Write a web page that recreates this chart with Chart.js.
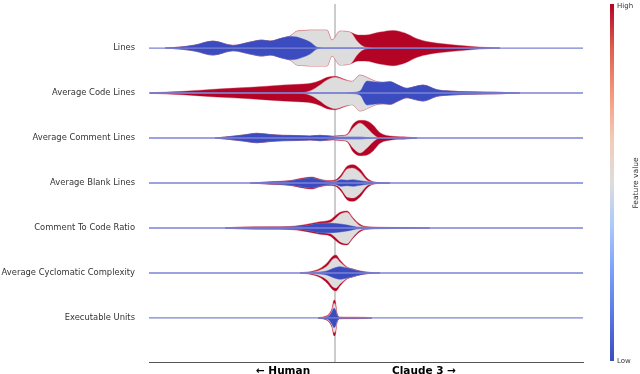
<!DOCTYPE html>
<html>
<head>
<meta charset="utf-8">
<script src="https://cdn.jsdelivr.net/npm/chart.js@4"></script>
<style>
  body { margin: 0; background: #fff; }
</style>
</head>
<body>
<canvas id="shapChart" width="640" height="374"></canvas>
<script>
const features = ['Lines', 'Average Code Lines', 'Average Comment Lines', 'Average Blank Lines',
    'Comment To Code Ratio', 'Average Cyclomatic Complexity', 'Executable Units'];
const xLabels = ['\u2190 Human', 'Claude 3 \u2192'];
const xLabelPos = [-0.052, 0.089];
const xMin = -0.186, xMax = 0.248;

// shap value grid and density edges per feature (low / low+mid / all)
const shapX = [
    [-0.17,-0.155,-0.14,-0.122,-0.102,-0.085,-0.073,-0.065,-0.053,-0.045,-0.038,-0.032,-0.025,-0.017,-0.008,-0.003,0.005,0.015,0.023,0.03,0.045,0.058,0.07,0.082,0.095,0.108,0.132,0.148,0.165],
    [-0.185,-0.152,-0.118,-0.085,-0.052,-0.032,-0.023,-0.015,-0.008,0,0.01,0.017,0.025,0.032,0.04,0.048,0.055,0.063,0.072,0.08,0.088,0.102,0.115,0.132,0.165,0.185],
    [-0.12,-0.105,-0.092,-0.078,-0.065,-0.052,-0.038,-0.025,-0.015,-0.002,0.005,0.012,0.018,0.025,0.032,0.038,0.045,0.058,0.072,0.082],
    [-0.085,-0.065,-0.045,-0.032,-0.023,-0.015,-0.007,0,0.006,0.012,0.018,0.025,0.032,0.038,0.045,0.055],
    [-0.11,-0.095,-0.065,-0.045,-0.028,-0.015,-0.005,0,0.005,0.012,0.018,0.025,0.032,0.045,0.072,0.095],
    [-0.035,-0.025,-0.015,-0.008,-0.002,0.001,0.005,0.012,0.018,0.025,0.032,0.045],
    [-0.017,-0.01,-0.006,-0.003,-0.001,0.0005,0.002,0.005,0.015,0.03,0.037]
];
const lowEdge = [
    [0,1,3,7,2.7,6,8,7,10,11.7,11,9,6,0.5,0,0,0,0,0,0,0,0,0,0,0,0,0,0,0],
    [0,0,0,0,0,0,0,0,0,0,0,0.5,2,12,11,10.7,11.3,8,4.7,6.5,8,3.3,2,1.3,0.7,0],
    [0,1.5,3,4.7,3.5,2.7,2.5,2,2.7,1.3,1,1,1,1,0.5,0,0,0,0,0],
    [0,1,2,4,5,3,1.5,1.3,3.3,2.7,3.3,2.3,1.3,0.7,0.3,0],
    [0,0.5,0.8,1,2.3,4.7,4.7,4.5,4,3,1.7,0.7,0.7,0.5,0.4,0],
    [0,0.3,1,2,4.5,5.5,6.3,5,3.5,1.7,0.7,0],
    [0,0.8,2,6.3,9.7,8,3,0.3,0,0,0]
];
const midEdge = [
    [0,1,3,7,2.7,6,8,7,10,12,17,17.5,18,18,18,8,17,16,6,1,0,0,0,0,0,0,0,0,0],
    [0,0,0,0,0,0.5,3,8,13,15.7,13,11.7,18,15.7,12,10.7,11.3,8,4.7,6.5,8,3.3,2,1.3,0.7,0],
    [0,1.5,3,4.7,3.5,2.7,2.5,2,2.7,1.5,2,3,10,15,10,4,0,0,0,0],
    [0,1,2,4,5,3,1.8,2,6,14,15,10.7,2.7,1,0.3,0],
    [0,0.5,0.8,1,2.3,4.7,5.5,9,13.7,15.7,9,2.3,1,0.5,0.4,0],
    [0,0.5,3,7,14,15,11,5.5,3.8,1.8,0.7,0],
    [0,1,3,8,14.7,13,4,0.4,0.2,0,0]
];
const highEdge = [
    [0,1,3,7,2.7,6,8,7,10,12,17,17.5,18,18,18,8,17,16,13,13,16,17.7,15,9.3,6,4.3,2,0.8,0],
    [0.3,1.7,4,5.7,8,9,10,12.5,15.7,16.7,13.5,11.7,18,15.7,12,10.7,11.3,8,4.7,6.5,8,3.3,2,1.3,0.7,0],
    [0,1.5,3,4.7,3.5,2.7,2.5,2,2.7,2,2.5,3.7,13.7,17.7,17,13,5.3,1.7,1,0],
    [0,1.3,2.5,5,6,3.8,2.5,3,8.3,16.7,18.3,14,5,1.3,0.5,0],
    [0,1,1.2,1.5,3.7,6.3,8,12,15.7,17,10.3,3.7,1.3,0.7,0.4,0],
    [0.3,1.3,4.5,10,17,18,13,6,4,2,0.8,0],
    [0.3,1.5,4,9.7,18,16,5,1,0.8,0.6,0]
];

const densityScale = 1 / 45;
const layers = [
    { edges: highEdge, fill: '#b40426', border: 'rgba(205,60,80,0.55)', order: 3 },
    { edges: midEdge, fill: '#dddddd', border: 'rgba(225,130,140,0.6)', order: 2 },
    { edges: lowEdge, fill: '#3b4cc0', border: 'rgba(59,76,192,0.6)', order: 1 }
];

const datasets = [];
features.forEach((name, i) => {
    layers.forEach(layer => {
        const w = layer.edges[i];
        const common = {
            backgroundColor: layer.fill,
            borderColor: layer.border,
            borderWidth: 0.8,
            pointRadius: 0,
            cubicInterpolationMode: 'monotone',
            order: layer.order
        };
        datasets.push(Object.assign({}, common, {
            data: shapX[i].map((x, j) => ({ x: x, y: i - w[j] * densityScale })),
            fill: '+1'
        }));
        datasets.push(Object.assign({}, common, {
            data: shapX[i].map((x, j) => ({ x: x, y: i + w[j] * densityScale })),
            fill: false
        }));
    });
    datasets.push({
        data: [{ x: xMin, y: i }, { x: xMax, y: i }],
        borderColor: '#7d82d4',
        borderWidth: 1.4,
        pointRadius: 0,
        fill: false,
        order: 0
    });
});

const zeroLine = {
    id: 'zeroLine',
    beforeDatasetsDraw(chart) {
        const c = chart.ctx, a = chart.chartArea;
        const x = chart.scales.x.getPixelForValue(0);
        c.save();
        c.strokeStyle = '#999';
        c.lineWidth = 1;
        c.beginPath();
        c.moveTo(x, a.top);
        c.lineTo(x, a.bottom);
        c.stroke();
        c.restore();
    }
};

const colorBar = {
    id: 'colorBar',
    afterDraw(chart) {
        const c = chart.ctx;
        const top = 4, bottom = 361, left = 610, w = 4;
        const g = c.createLinearGradient(0, bottom, 0, top);
        const stops = ['#3b4cc0', '#5977e3', '#7b9ff9', '#aac7fd', '#dddddd', '#f2cbb7', '#f4987a', '#de604d', '#b40426'];
        stops.forEach((s, k) => g.addColorStop(k / (stops.length - 1), s));
        c.save();
        c.fillStyle = g;
        c.fillRect(left, top, w, bottom - top);
        c.fillStyle = '#333';
        c.font = '7px "DejaVu Sans"';
        c.textAlign = 'left';
        c.textBaseline = 'middle';
        c.fillText('High', left + w + 3, top + 2);
        c.fillText('Low', left + w + 3, bottom);
        c.translate(636, 183);
        c.rotate(-Math.PI / 2);
        c.textAlign = 'center';
        c.font = '7.5px "DejaVu Sans"';
        c.fillText('Feature value', 0, 0);
        c.restore();
    }
};

Chart.defaults.font.family = '"DejaVu Sans", sans-serif';

new Chart(document.getElementById('shapChart').getContext('2d'), {
    type: 'line',
    data: { datasets: datasets },
    options: {
        responsive: false,
        animation: false,
        layout: { autoPadding: false, padding: { left: 0, right: 57, top: 4, bottom: 0 } },
        plugins: { legend: { display: false }, tooltip: { enabled: false } },
        scales: {
            x: {
                type: 'linear',
                min: xMin,
                max: xMax,
                grid: { display: false },
                border: { display: true, color: '#555', width: 1 },
                afterBuildTicks: scale => { scale.ticks = xLabelPos.map(v => ({ value: v })); },
                afterFit: scale => {
                    scale.height = 12;
                    scale.paddingLeft = 0;
                    scale.paddingRight = 0;
                },
                ticks: {
                    autoSkip: false,
                    maxRotation: 0,
                    padding: -5,
                    color: '#000',
                    font: { size: 10.5, weight: 'bold' },
                    callback: (v, idx) => xLabels[idx]
                }
            },
            y: {
                type: 'linear',
                min: -0.98,
                max: 6.98,
                reverse: true,
                grid: { display: false },
                border: { display: false },
                afterBuildTicks: scale => { scale.ticks = features.map((f, i) => ({ value: i })); },
                afterFit: scale => {
                    scale.width = 149;
                    scale.paddingTop = 0;
                    scale.paddingBottom = 0;
                },
                ticks: {
                    padding: 6,
                    color: '#333',
                    font: { size: 8.4 },
                    callback: (v, idx) => features[idx]
                }
            }
        }
    },
    plugins: [zeroLine, colorBar]
});
</script>
</body>
</html>
